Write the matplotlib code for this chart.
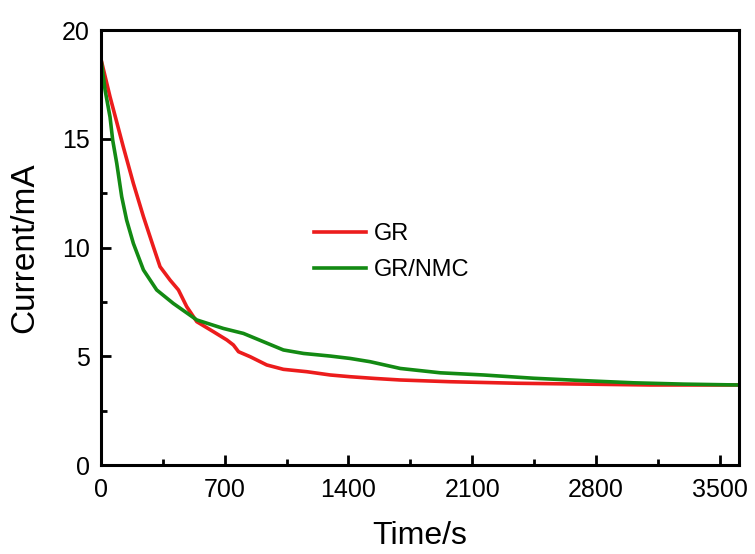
import matplotlib
matplotlib.use("Agg")
import matplotlib.pyplot as plt
from matplotlib.ticker import MultipleLocator

plt.rcParams['font.family'] = ['Liberation Sans', 'DejaVu Sans']

gr_t = [0, 51, 126, 183, 240, 296, 334, 391, 438, 485, 542, 636, 712, 749, 778,
        844, 938, 1032, 1165, 1297, 1410, 1550, 1693, 1976, 2354, 2731, 3109, 3610]
gr_i = [18.65, 16.93, 14.63, 12.95, 11.42, 10.04, 9.12, 8.5, 8.05, 7.28, 6.59, 6.13,
        5.75, 5.52, 5.21, 4.98, 4.6, 4.4, 4.29, 4.14, 4.06, 3.98, 3.91, 3.83, 3.76,
        3.72, 3.68, 3.68]

nmc_t = [0, 23, 51, 66, 89, 117, 145, 183, 240, 315, 409, 542, 692, 806, 919, 1032,
         1146, 1297, 1410, 1523, 1693, 1920, 2165, 2448, 2731, 3014, 3297, 3610]
nmc_i = [18.65, 17.24, 16.0, 14.94, 13.87, 12.34, 11.26, 10.19, 8.97, 8.05, 7.43,
         6.67, 6.28, 6.05, 5.67, 5.29, 5.13, 5.01, 4.9, 4.75, 4.44, 4.24, 4.14, 3.99,
         3.88, 3.78, 3.72, 3.68]

fig = plt.figure(figsize=(7.55, 5.54), dpi=100)
ax = fig.add_axes([0.1338, 0.1606, 0.9788 - 0.1338, 0.9458 - 0.1606])

ax.plot(gr_t, gr_i, color='#ec1c1c', lw=2.6, label='GR')
ax.plot(nmc_t, nmc_i, color='#138a13', lw=2.6, label='GR/NMC')

ax.set_xlim(0, 3610)
ax.set_ylim(0, 20)
ax.xaxis.set_major_locator(MultipleLocator(700))
ax.xaxis.set_minor_locator(MultipleLocator(350))
ax.yaxis.set_major_locator(MultipleLocator(5))
ax.yaxis.set_minor_locator(MultipleLocator(2.5))
ax.tick_params(which='major', direction='in', length=7, width=2, labelsize=18)
ax.tick_params(axis='x', which='major', pad=9)
ax.tick_params(axis='y', which='major', pad=8)
ax.tick_params(which='minor', direction='in', length=4, width=2)
for s in ax.spines.values():
    s.set_linewidth(2.2)

ax.set_xlabel('Time/s', fontsize=23, labelpad=14)
ax.set_ylabel('Current/mA', fontsize=24, labelpad=16)

ax.legend(loc='upper left', bbox_to_anchor=(0.30, 0.605), frameon=False,
          fontsize=17, handlelength=2.2, handletextpad=0.35, labelspacing=0.6)

fig.savefig('out.png', dpi=100)
